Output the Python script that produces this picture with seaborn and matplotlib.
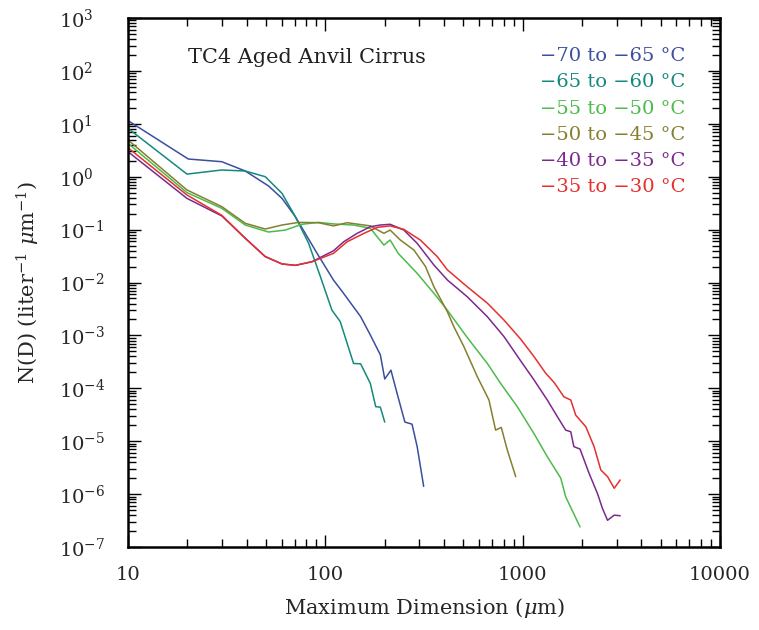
import numpy as np
import pandas as pd
import seaborn as sns
import matplotlib.pyplot as plt
from matplotlib.ticker import LogLocator, FixedLocator, FixedFormatter, NullFormatter

# size distributions: D in micron, N(D) in per liter per micron
labels = ['\u221270 to \u221265 \u00b0C', '\u221265 to \u221260 \u00b0C', '\u221255 to \u221250 \u00b0C',
          '\u221250 to \u221245 \u00b0C', '\u221240 to \u221235 \u00b0C', '\u221235 to \u221230 \u00b0C']
colors = ['#3c4e9e', '#14897e', '#4cbb4a', '#857f30', '#7b2a8c', '#e4302f']

d_70 = [10, 20.2, 29.9, 39.3, 51.5, 60.3, 70.5, 90.8, 110, 122, 151, 169, 190, 200, 215, 231, 253, 275, 292, 315]
n_70 = [11.5, 2.16, 1.92, 1.28, 0.67, 0.39, 0.175, 0.0356, 0.0111, 0.0067, 0.00226, 0.00102, 4.3e-4, 1.5e-4,
        2.2e-4, 8.0e-5, 2.3e-5, 2.1e-5, 7.9e-6, 1.4e-6]

d_65 = [10, 19.9, 29.9, 39.3, 49.6, 60.3, 70.5, 82.3, 94.4, 108, 119, 139, 151, 169, 180, 190, 200]
n_65 = [8.2, 1.12, 1.34, 1.28, 1.0, 0.485, 0.175, 0.055, 0.0129, 0.0030, 0.00182, 2.95e-4, 2.9e-4, 1.24e-4,
        4.5e-5, 4.4e-5, 2.3e-5]

d_55 = [10, 19.9, 29.9, 39.3, 51.5, 62.7, 76, 92.3, 110, 139, 169, 198, 213, 234, 292, 355, 415, 524, 662,
        773, 939, 1140, 1333, 1560, 1652, 1953]
n_55 = [4.27, 0.50, 0.252, 0.122, 0.090, 0.098, 0.126, 0.137, 0.128, 0.122, 0.106, 0.051, 0.0635, 0.0356,
        0.0149, 0.00625, 0.0030, 9.1e-4, 2.95e-4, 1.24e-4, 4.5e-5, 1.4e-5, 5.1e-6, 2.0e-6, 8.9e-7, 2.4e-7]

d_50 = [10, 19.9, 29.9, 39.3, 49.6, 60.3, 73.2, 92.3, 110, 129, 169, 198, 213, 240, 281, 322, 355, 415, 448,
        503, 589, 675, 729, 779, 836, 922]
n_50 = [4.94, 0.561, 0.271, 0.1315, 0.1026, 0.122, 0.137, 0.135, 0.1175, 0.135, 0.1175, 0.085, 0.098, 0.0635,
        0.0411, 0.020, 0.0083, 0.00282, 0.00146, 6.2e-4, 1.66e-4, 6.0e-5, 1.62e-5, 1.82e-5, 6.8e-6, 2.14e-6]

d_40 = [10, 19.9, 29.9, 39.3, 49.6, 60.3, 70.5, 85.6, 110, 124, 145, 169, 190, 213, 250, 292, 355, 415, 524,
        662, 804, 977, 1140, 1333, 1500, 1652, 1753, 1817, 1953, 2172, 2393, 2535, 2692, 2910, 3120]
n_40 = [2.97, 0.389, 0.181, 0.0684, 0.0309, 0.0224, 0.0211, 0.0247, 0.0398, 0.059, 0.085, 0.1135, 0.122, 0.126,
        0.098, 0.055, 0.0214, 0.0112, 0.00537, 0.00226, 9.5e-4, 3.3e-4, 1.45e-4, 6.0e-5, 2.9e-5, 1.62e-5,
        1.51e-5, 7.9e-6, 7.1e-6, 2.45e-6, 1.03e-6, 5.4e-7, 3.2e-7, 4.0e-7, 3.9e-7]

d_35 = [10, 19.9, 29.9, 39.3, 49.6, 60.3, 70.5, 85.6, 110, 129, 157, 183, 213, 250, 303, 369, 415, 524, 662,
        804, 977, 1140, 1309, 1443, 1618, 1753, 1858, 2089, 2301, 2489, 2692, 2910, 3120]
n_35 = [3.53, 0.451, 0.186, 0.0684, 0.0309, 0.0224, 0.0211, 0.0247, 0.0356, 0.059, 0.085, 0.110, 0.1175, 0.101,
        0.0635, 0.0309, 0.0174, 0.0083, 0.00407, 0.00195, 8.5e-4, 4.0e-4, 1.92e-4, 1.29e-4, 6.9e-5, 6.0e-5,
        3.1e-5, 1.88e-5, 7.9e-6, 2.86e-6, 2.14e-6, 1.29e-6, 1.85e-6]

x_ticks = [10, 100, 1000, 10000]
x_ticklabels = ['10', '100', '1000', '10000']

series = [(d_70, n_70), (d_65, n_65), (d_55, n_55), (d_50, n_50), (d_40, n_40), (d_35, n_35)]
frames = []
for lab, (d, n) in zip(labels, series):
    frames.append(pd.DataFrame({'D': d, 'N': n, 'range': lab}))
df = pd.concat(frames, ignore_index=True)

sns.set_theme(style='ticks')
plt.rcParams['font.family'] = ['DejaVu Serif']
plt.rcParams['mathtext.fontset'] = 'dejavuserif'

fig = plt.figure(figsize=(7.59, 6.30), dpi=100)
ax = fig.add_axes([128 / 759, 83 / 630, 592 / 759, 529 / 630])
ax.set_xscale('log')
ax.set_yscale('log')

sns.lineplot(data=df, x='D', y='N', hue='range', hue_order=labels,
             palette=dict(zip(labels, colors)), estimator=None, sort=False,
             linewidth=1.1, legend=False, ax=ax)

ax.set_xlim(10, 10000)
ax.set_ylim(1e-7, 1e3)

ax.xaxis.set_major_locator(FixedLocator(x_ticks))
ax.xaxis.set_major_formatter(FixedFormatter(x_ticklabels))
ax.xaxis.set_minor_locator(LogLocator(base=10, subs=np.arange(2, 10), numticks=20))
ax.xaxis.set_minor_formatter(NullFormatter())
ax.yaxis.set_major_locator(LogLocator(base=10, numticks=20))
ax.yaxis.set_minor_locator(LogLocator(base=10, subs=np.arange(2, 10), numticks=20))
ax.yaxis.set_minor_formatter(NullFormatter())

ax.tick_params(which='both', direction='in', top=True, right=True, color='black', width=1.0)
ax.tick_params(which='major', length=9)
ax.tick_params(which='minor', length=6)
ax.tick_params(axis='x', which='major', labelsize=14, pad=14)
ax.tick_params(axis='y', which='major', labelsize=14, pad=50)
plt.setp(ax.get_yticklabels(), ha='left')
for sp in ax.spines.values():
    sp.set_linewidth(1.8)
    sp.set_color('black')

ax.set_xlabel('Maximum Dimension ($\\mu$m)', fontsize=15, labelpad=8)
ax.set_ylabel('N(D) (liter$^{-1}$ $\\mu$m$^{-1}$)', fontsize=15, labelpad=12)

ax.text(0.101, 0.926, 'TC4 Aged Anvil Cirrus', transform=ax.transAxes, fontsize=15,
        ha='left', va='center', color='#222222')
for i, (lab, col) in enumerate(zip(labels, colors)):
    ax.text(0.696, 0.928 - i * 0.0496, lab, transform=ax.transAxes, fontsize=14,
            ha='left', va='center', color=col)

fig.savefig('out.png', dpi=100)
